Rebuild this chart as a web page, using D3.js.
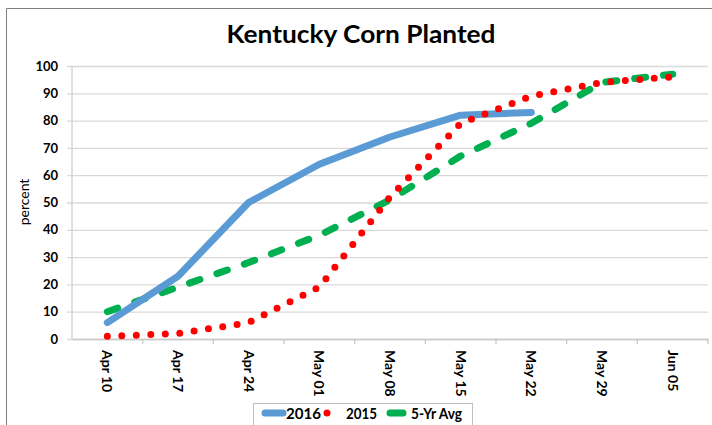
<!DOCTYPE html>
<html>
<head>
<meta charset="utf-8">
<script src="https://cdn.jsdelivr.net/npm/d3@7"></script>
<style>
  html, body { margin: 0; padding: 0; background: #fff; }
  svg { display: block; }
  text { font-family: Lato, "Open Sans", sans-serif; }
</style>
</head>
<body>
<svg id="chart" width="712" height="425"></svg>
<script>
const categories = ["Apr 10","Apr 17","Apr 24","May 01","May 08","May 15","May 22","May 29","Jun 05"];
const values2016 = [6, 23, 50, 64, 74, 82, 83, null, null];
const values2015 = [1, 2, 6, 19, 52, 79, 89, 94, 96];
const valuesAvg  = [10, 19, 28, 38, 51, 67, 79, 94, 97];
const yTicks = [0,10,20,30,40,50,60,70,80,90,100];
const seriesNames = ["2016", "2015", "5-Yr Avg"];

(function () {
const svg = d3.select("#chart");
const W = 712, H = 425;
const pLeft = 72, pRight = 708, pTop = 66, pBottom = 339;

// outer chart border
svg.append("path")
  .attr("d", `M6.5,${H+2} L6.5,8.5 L${W+2},8.5`)
  .attr("fill", "none").attr("stroke", "#808080").attr("stroke-width", 1);

const x = d3.scaleBand().domain(categories).range([pLeft, pRight]);
const y = d3.scaleLinear().domain([0, 100]).range([pBottom, pTop]);
const cx = d => x(d) + x.bandwidth() / 2;

// y gridlines + labels
const yAxis = d3.axisLeft(y).tickValues(yTicks).tickSize(-(pRight - 67)).tickPadding(9);
const gy = svg.append("g").attr("transform", "translate(67,0)").call(yAxis);
gy.select(".domain").remove();
gy.selectAll(".tick line").attr("stroke", "#D9D9D9").attr("stroke-width", 1.3);
gy.selectAll(".tick text").attr("font-size", 13).attr("font-weight", "bold").attr("fill", "#000");

// y axis line
svg.append("line").attr("x1", pLeft).attr("x2", pLeft).attr("y1", pTop).attr("y2", pBottom)
  .attr("stroke", "#D0D0D0").attr("stroke-width", 1.3);

// x axis
const xAxis = d3.axisBottom(x).tickSize(0).tickPadding(0);
const gx = svg.append("g").attr("transform", `translate(0,${pBottom})`).call(xAxis);
gx.select(".domain").attr("stroke", "#C8C8C8").attr("stroke-width", 1.3);
gx.selectAll(".tick text")
  .attr("font-size", 14).attr("font-weight", "bold").attr("fill", "#000")
  .attr("text-anchor", "start")
  .attr("transform", "translate(0,11) rotate(90)")
  .attr("x", 0).attr("y", 0).attr("dy", "0.35em");
// boundary ticks
svg.append("g").selectAll("line").data(categories).join("line")
  .attr("x1", d => x(d) + x.bandwidth()).attr("x2", d => x(d) + x.bandwidth())
  .attr("y1", pBottom).attr("y2", pBottom + 5)
  .attr("stroke", "#C8C8C8").attr("stroke-width", 1.3);

// y title
svg.append("text").attr("transform", "translate(29,202) rotate(-90)")
  .attr("text-anchor", "middle").attr("font-size", 14).attr("fill", "#000")
  .text("percent");

// title
svg.append("text").attr("x", 361).attr("y", 43).attr("text-anchor", "middle")
  .attr("font-size", 25).attr("font-weight", "bold").attr("fill", "#000")
  .attr("textLength", 269).attr("lengthAdjust", "spacingAndGlyphs")
  .text("Kentucky Corn Planted");

const lineGen = d3.line()
  .defined(d => d.v !== null)
  .x(d => cx(d.c)).y(d => y(d.v));
const toPts = arr => categories.map((c, i) => ({c, v: arr[i]}));

// 5-yr avg
svg.append("path").datum(toPts(valuesAvg)).attr("d", lineGen)
  .attr("fill", "none").attr("stroke", "#00B050").attr("stroke-width", 7)
  .attr("stroke-linecap", "round").attr("stroke-linejoin", "round")
  .attr("stroke-dasharray", "11 18");
// 2016
svg.append("path").datum(toPts(values2016)).attr("d", lineGen)
  .attr("fill", "none").attr("stroke", "#5B9BD5").attr("stroke-width", 7)
  .attr("stroke-linecap", "round").attr("stroke-linejoin", "round");
// 2015
svg.append("path").datum(toPts(values2015)).attr("d", lineGen)
  .attr("fill", "none").attr("stroke", "#FF0000").attr("stroke-width", 7)
  .attr("stroke-linecap", "round").attr("stroke-linejoin", "round")
  .attr("stroke-dasharray", "0 14.5");

// legend
const lg = svg.append("g");
lg.append("rect").attr("x", 253.5).attr("y", 403.5).attr("width", 219).attr("height", 30)
  .attr("fill", "#fff").attr("stroke", "#BFBFBF").attr("stroke-width", 1);
lg.append("line").attr("x1", 265).attr("x2", 283).attr("y1", 413).attr("y2", 413)
  .attr("stroke", "#5B9BD5").attr("stroke-width", 7).attr("stroke-linecap", "round");
lg.append("line").attr("x1", 327).attr("x2", 341).attr("y1", 413).attr("y2", 413)
  .attr("stroke", "#FF0000").attr("stroke-width", 7).attr("stroke-linecap", "round")
  .attr("stroke-dasharray", "0 14");
lg.append("line").attr("x1", 390).attr("x2", 403).attr("y1", 413).attr("y2", 413)
  .attr("stroke", "#00B050").attr("stroke-width", 7).attr("stroke-linecap", "round");
const legX = [286, 346, 411];
const legW = [35, 31, 51];
seriesNames.forEach((n, i) => {
  lg.append("text").attr("x", legX[i]).attr("y", 419)
    .attr("font-size", 16).attr("font-weight", "bold").attr("fill", "#000")
    .attr("textLength", legW[i]).attr("lengthAdjust", "spacingAndGlyphs")
    .text(n);
});
})();
</script>
</body>
</html>
